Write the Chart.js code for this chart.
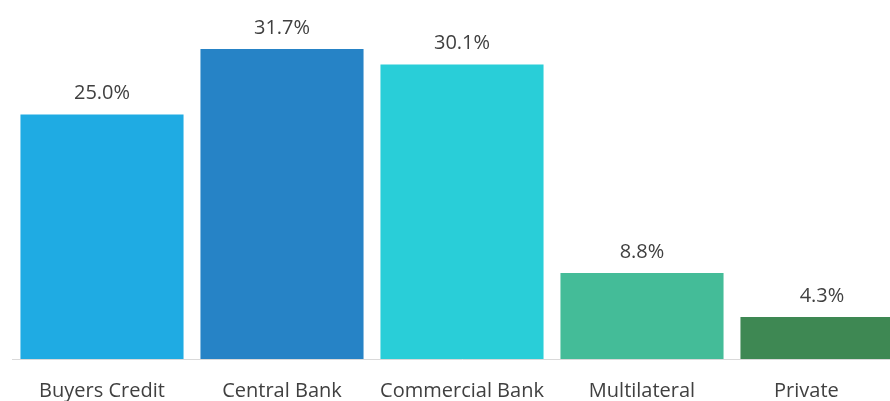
<!DOCTYPE html>
<html>
<head>
<meta charset="utf-8">
<script src="https://cdn.jsdelivr.net/npm/chart.js@4"></script>
<style>
    html, body { margin: 0; padding: 0; overflow: hidden; background: #fff; }
    #wrap { width: 912px; height: 401px; }
</style>
</head>
<body>
<div id="wrap"><canvas id="myChart"></canvas></div>
<script>
const categories = ['Buyers Credit', 'Central Bank', 'Commercial Bank', 'Multilateral', 'Private'];
const shares = [25.0, 31.7, 30.1, 8.8, 4.3];
const barColors = ['#1FABE3', '#2683C6', '#29CED8', '#44BC98', '#3E8853'];

// labels drawn above each bar
const valueLabels = {
    id: 'valueLabels',
    afterDatasetsDraw(chart) {
        const c = chart.ctx;
        const meta = chart.getDatasetMeta(0);
        c.save();
        c.font = '20px "Open Sans", sans-serif';
        c.fillStyle = '#404040';
        c.textAlign = 'center';
        c.textBaseline = 'bottom';
        meta.data.forEach((bar, i) => {
            c.fillText(shares[i].toFixed(1) + '%', bar.x, bar.y - 11);
        });
        c.restore();
    }
};

document.addEventListener('DOMContentLoaded', () => {
    const ctx = document.getElementById('myChart');

    new Chart(ctx, {
        type: 'bar',
        data: {
            labels: categories,
            datasets: [{
                data: shares,
                backgroundColor: barColors,
                categoryPercentage: 1,
                barPercentage: 0.906
            }]
        },
        options: {
            responsive: true,
            maintainAspectRatio: false,
            animation: false,
            layout: { padding: { left: 12, right: 0, top: 0, bottom: 0 } },
            plugins: { legend: { display: false }, tooltip: { enabled: false } },
            scales: {
                x: {
                    grid: { display: false },
                    border: { color: '#d9d9d9', width: 1 },
                    afterFit: scale => { scale.height = 42; },
                    ticks: {
                        color: '#404040',
                        padding: 12,
                        font: { family: '"Open Sans", sans-serif', size: 20 },
                        callback: (v, i) => i === categories.length - 1
                            ? categories[i] + '\u00a0'.repeat(6)
                            : categories[i]
                    }
                },
                y: { display: false, min: 0, max: 36.7 }
            }
        },
        plugins: [valueLabels]
    });
});
</script>
</body>
</html>
